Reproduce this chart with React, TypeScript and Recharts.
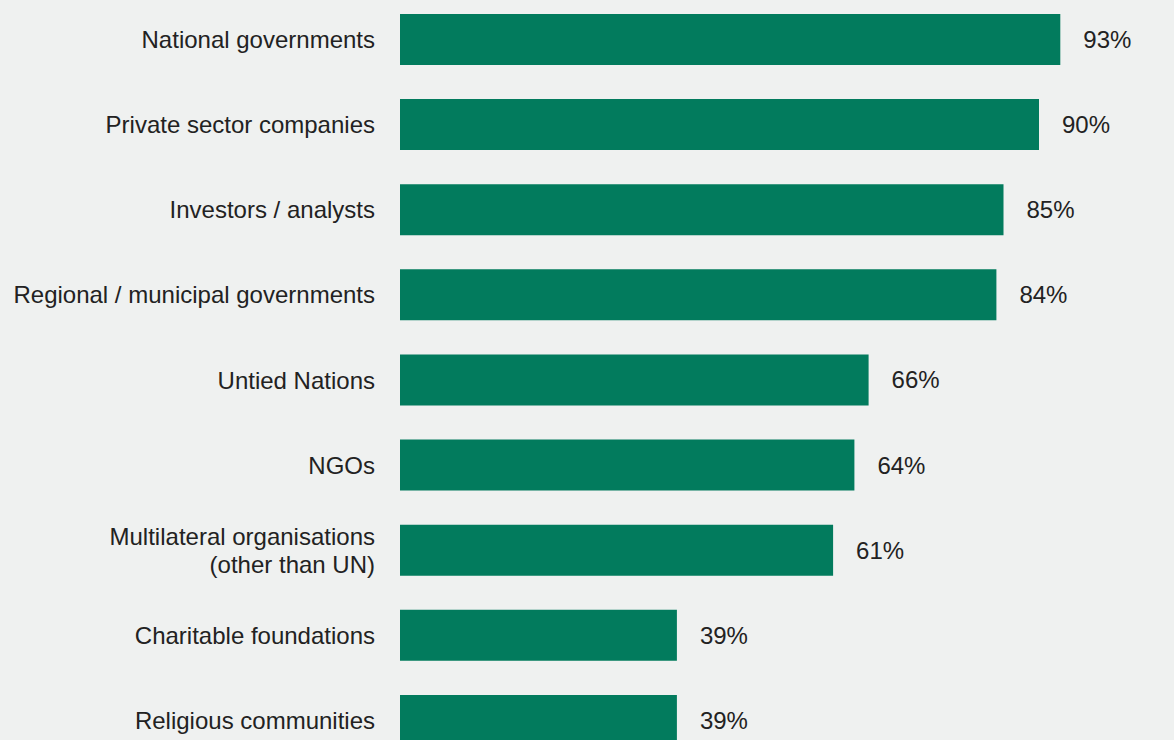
import React from 'react';
import { BarChart, Bar, XAxis, YAxis, LabelList } from 'recharts';

const categories = [
  'National governments',
  'Private sector companies',
  'Investors / analysts',
  'Regional / municipal governments',
  'Untied Nations',
  'NGOs',
  'Multilateral organisations\n(other than UN)',
  'Charitable foundations',
  'Religious communities',
];

const shares = [93, 90, 85, 84, 66, 64, 61, 39, 39];

const data = categories.map((name, i) => ({ name, value: shares[i] }));

const FONT = '"Liberation Sans", Arial, Helvetica, sans-serif';
const TEXT = '#222222';
const GREEN = '#027b5d';

function CategoryTick(props: any) {
  const { x, y, payload } = props;
  const lines = String(payload.value).split('\n');
  const lineH = 28;
  const first = -((lines.length - 1) * lineH) / 2;
  return (
    <text x={x} y={y} textAnchor="end" fill={TEXT} fontSize={24} fontFamily={FONT}>
      {lines.map((l, i) => (
        <tspan key={i} x={x} dy={i === 0 ? first + 8.5 : lineH}>
          {l}
        </tspan>
      ))}
    </text>
  );
}

export default function App() {
  return (
    <div
      style={{
        position: 'absolute',
        top: 0,
        left: 0,
        width: 1174,
        height: 740,
        overflow: 'hidden',
        background: '#eff1f0',
      }}
    >
      <div style={{ marginTop: -3 }}>
        <BarChart
          width={1174}
          height={766}
          data={data}
          layout="vertical"
          margin={{ top: 0, right: 64, left: 0, bottom: 0 }}
        >
          <XAxis type="number" domain={[0, 100]} hide />
          <YAxis
            type="category"
            dataKey="name"
            width={400}
            axisLine={false}
            tickLine={false}
            tickSize={0}
            tickMargin={25}
            interval={0}
            tick={<CategoryTick />}
          />
          <Bar dataKey="value" fill={GREEN} barSize={51} isAnimationActive={false}>
            <LabelList
              dataKey="value"
              position="right"
              offset={23}
              formatter={(v: any) => `${v}%`}
              fill={TEXT}
              fontSize={24}
              fontFamily={FONT}
            />
          </Bar>
        </BarChart>
      </div>
    </div>
  );
}
